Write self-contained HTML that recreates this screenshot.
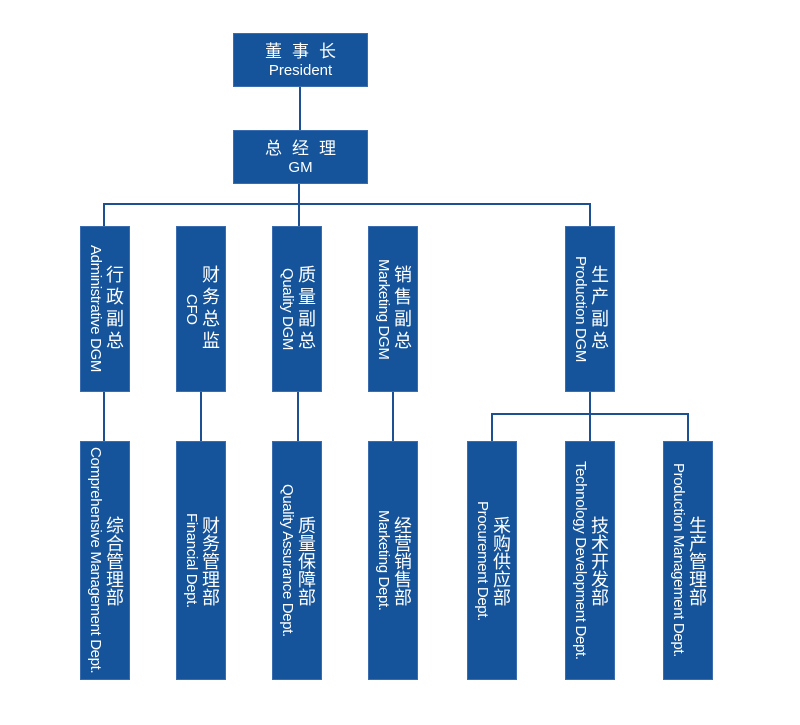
<!DOCTYPE html>
<html><head><meta charset="utf-8"><style>
body{margin:0;width:800px;height:725px;background:#fff;position:relative;overflow:hidden;font-family:"Liberation Sans","Noto Sans CJK SC",sans-serif}
.b{position:absolute;background:#15549a;border:1px solid #3a6cb0;box-sizing:border-box;color:#fff}
.h{display:flex;flex-direction:column;align-items:center;justify-content:center;text-align:center}
.h .c{font-size:17px;letter-spacing:10px;margin-left:10px;line-height:21px}
.h .e{font-size:15px;line-height:18px}
.v{writing-mode:vertical-rl;display:flex;flex-direction:column;align-items:center;justify-content:center}
.v .c{font-size:18px;line-height:19px;text-align:center}
.u .c{letter-spacing:4px}
.v .e{font-size:15px;line-height:17px;letter-spacing:-0.35px;text-align:center;white-space:nowrap}
.l{position:absolute;background:#1d4f93}
</style></head><body>
<div class="l" style="left:299px;top:86px;width:2px;height:44px"></div>
<div class="l" style="left:298px;top:183px;width:2px;height:43px"></div>
<div class="l" style="left:103px;top:203px;width:488px;height:2px"></div>
<div class="l" style="left:103px;top:203px;width:2px;height:23px"></div>
<div class="l" style="left:589px;top:203px;width:2px;height:23px"></div>
<div class="l" style="left:103px;top:392px;width:2px;height:49px"></div>
<div class="l" style="left:200px;top:392px;width:2px;height:49px"></div>
<div class="l" style="left:297px;top:392px;width:2px;height:49px"></div>
<div class="l" style="left:392px;top:392px;width:2px;height:49px"></div>
<div class="l" style="left:589px;top:392px;width:2px;height:49px"></div>
<div class="l" style="left:491px;top:413px;width:198px;height:2px"></div>
<div class="l" style="left:491px;top:413px;width:2px;height:28px"></div>
<div class="l" style="left:687px;top:413px;width:2px;height:28px"></div>

<div class="b h" style="left:233px;top:33px;width:135px;height:54px"><div class="c">董事长</div><div class="e">President</div></div>
<div class="b h" style="left:233px;top:130px;width:135px;height:54px"><div class="c">总经理</div><div class="e">GM</div></div>

<div class="b v u" style="left:80px;top:226px;width:50px;height:166px"><div class="c">行政副总</div><div class="e">Administrative DGM</div></div>
<div class="b v u" style="left:176px;top:226px;width:50px;height:166px"><div class="c">财务总监</div><div class="e">CFO</div></div>
<div class="b v u" style="left:272px;top:226px;width:50px;height:166px"><div class="c">质量副总</div><div class="e">Quality DGM</div></div>
<div class="b v u" style="left:368px;top:226px;width:50px;height:166px"><div class="c">销售副总</div><div class="e">Marketing DGM</div></div>
<div class="b v u" style="left:565px;top:226px;width:50px;height:166px"><div class="c">生产副总</div><div class="e">Production DGM</div></div>

<div class="b v" style="left:80px;top:441px;width:50px;height:239px"><div class="c">综合管理部</div><div class="e">Comprehensive Management Dept.</div></div>
<div class="b v" style="left:176px;top:441px;width:50px;height:239px"><div class="c">财务管理部</div><div class="e">Financial Dept.</div></div>
<div class="b v" style="left:272px;top:441px;width:50px;height:239px"><div class="c">质量保障部</div><div class="e">Quality Assurance Dept.</div></div>
<div class="b v" style="left:368px;top:441px;width:50px;height:239px"><div class="c">经营销售部</div><div class="e">Marketing Dept.</div></div>
<div class="b v" style="left:467px;top:441px;width:50px;height:239px"><div class="c">采购供应部</div><div class="e">Procurement Dept.</div></div>
<div class="b v" style="left:565px;top:441px;width:50px;height:239px"><div class="c">技术开发部</div><div class="e">Technology Development Dept.</div></div>
<div class="b v" style="left:663px;top:441px;width:50px;height:239px"><div class="c">生产管理部</div><div class="e">Production Management Dept.</div></div>
</body></html>
